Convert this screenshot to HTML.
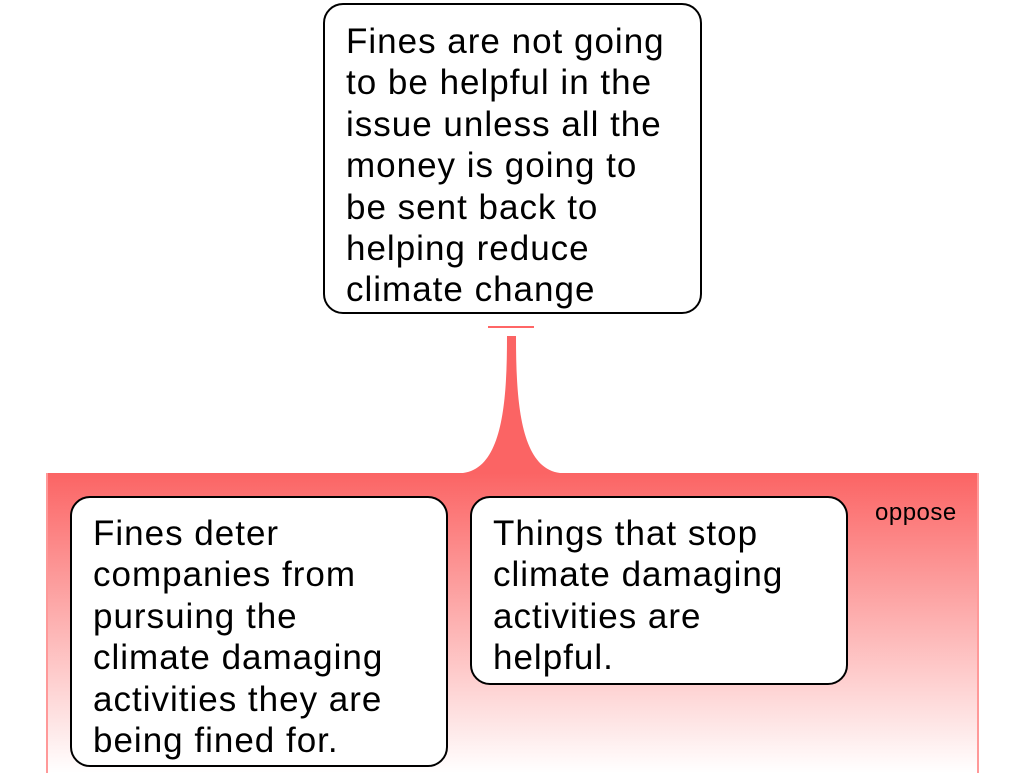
<!DOCTYPE html>
<html><head><style>
body{margin:0;width:1024px;height:768px;position:relative;background:#fff;overflow:hidden;font-family:"Liberation Sans",sans-serif}
.box{position:absolute;background:#fff;border:2px solid #000;border-radius:20px;box-sizing:border-box;font-size:35px;letter-spacing:1px;line-height:41.4px;color:#000;padding-left:21px;white-space:nowrap}
#region{position:absolute;left:46px;top:473px;width:933px;height:300px;background:linear-gradient(#fb6464,#fff);border-left:2px solid #f99;border-right:2px solid #f99;box-sizing:border-box}
</style></head><body>
<div id="region"></div>
<svg style="position:absolute;left:0;top:0" width="1024" height="768">
<line x1="488" y1="327" x2="534" y2="327" stroke="#f66" stroke-width="2"/>
<path d="M507 336 L516 336 C516 400 520 468 560 473 L463 473 C503 468 507 400 507 336 Z" fill="#fb6464"/>
</svg>
<div class="box" style="left:323px;top:3px;width:379px;height:311px;padding-top:16px">Fines are not going<br>to be helpful in the<br>issue unless all the<br>money is going to<br>be sent back to<br>helping reduce<br>climate change</div>
<div class="box" style="left:70px;top:496px;width:378px;height:271px;padding-top:15px">Fines deter<br>companies from<br>pursuing the<br>climate damaging<br>activities they are<br>being fined for.</div>
<div class="box" style="left:470px;top:496px;width:378px;height:189px;padding-top:15px">Things that stop<br>climate damaging<br>activities are<br>helpful.</div>
<div style="position:absolute;left:875px;top:499px;font-size:24px;letter-spacing:0.5px">oppose</div>
</body></html>
